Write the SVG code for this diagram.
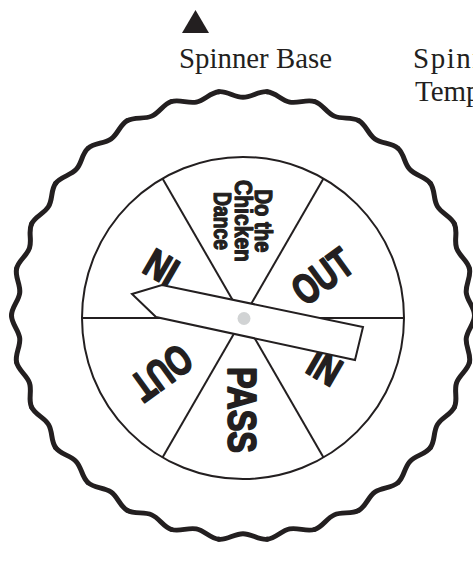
<svg xmlns="http://www.w3.org/2000/svg" width="473" height="561" viewBox="0 0 473 561">
<style>
.ink{fill:none;stroke:#231f20;stroke-width:2}
.solid{fill:#ffffff;stroke:#231f20;stroke-width:2}
.lbl{font-family:"Liberation Sans",Arial,sans-serif;font-weight:bold;fill:#231f20;stroke:#231f20;stroke-width:1.8;stroke-linejoin:round}
.sm{stroke-width:1.2}
.cap{font-family:"Liberation Serif","Times New Roman",serif;font-size:29px;fill:#231f20}
</style>
<defs>
<path id="wave" d="M231.5,0 C231.5,8.67 224.18,14.85 223.27,23.47 C222.36,32.09 228.24,39.65 226.44,48.13" fill="none" stroke="#231f20" stroke-width="5" stroke-linecap="round"/>
</defs>
<rect width="473" height="561" fill="#ffffff"/>

<g id="pointer-marker">
<polygon points="195.5,10 182,33 209,33" fill="#231f20"/>
</g>
<g id="label-base">
<text class="cap" x="179" y="68" textLength="153" lengthAdjust="spacingAndGlyphs">Spinner Base</text>
</g>
<g id="label-template">
<text class="cap" x="413" y="68" letter-spacing="1.5">Spinner</text>
<text class="cap" x="415" y="101">Template</text>
</g>

<g id="base-ring" transform="translate(243,315.5) scale(1,0.972)">
<use href="#wave" transform="rotate(0)"/>
<use href="#wave" transform="rotate(12)"/>
<use href="#wave" transform="rotate(24)"/>
<use href="#wave" transform="rotate(36)"/>
<use href="#wave" transform="rotate(48)"/>
<use href="#wave" transform="rotate(60)"/>
<use href="#wave" transform="rotate(72)"/>
<use href="#wave" transform="rotate(84)"/>
<use href="#wave" transform="rotate(96)"/>
<use href="#wave" transform="rotate(108)"/>
<use href="#wave" transform="rotate(120)"/>
<use href="#wave" transform="rotate(132)"/>
<use href="#wave" transform="rotate(144)"/>
<use href="#wave" transform="rotate(156)"/>
<use href="#wave" transform="rotate(168)"/>
<use href="#wave" transform="rotate(180)"/>
<use href="#wave" transform="rotate(192)"/>
<use href="#wave" transform="rotate(204)"/>
<use href="#wave" transform="rotate(216)"/>
<use href="#wave" transform="rotate(228)"/>
<use href="#wave" transform="rotate(240)"/>
<use href="#wave" transform="rotate(252)"/>
<use href="#wave" transform="rotate(264)"/>
<use href="#wave" transform="rotate(276)"/>
<use href="#wave" transform="rotate(288)"/>
<use href="#wave" transform="rotate(300)"/>
<use href="#wave" transform="rotate(312)"/>
<use href="#wave" transform="rotate(324)"/>
<use href="#wave" transform="rotate(336)"/>
<use href="#wave" transform="rotate(348)"/>
</g>

<g id="wheel">
<circle class="solid" cx="243" cy="318" r="161"/>
<line class="ink" x1="82" y1="318" x2="404" y2="318"/>
<line class="ink" x1="243" y1="318" x2="323.5" y2="178.6"/>
<line class="ink" x1="243" y1="318" x2="162.5" y2="178.6"/>
<line class="ink" x1="243" y1="318" x2="162.5" y2="457.4"/>
<line class="ink" x1="243" y1="318" x2="323.5" y2="457.4"/>
</g>

<g id="sector-chicken">
<text class="lbl sm" font-size="23" transform="translate(255,221) rotate(90)" x="-31.5" y="0" textLength="63" lengthAdjust="spacingAndGlyphs">Do the</text>
<text class="lbl sm" font-size="23" transform="translate(235,221) rotate(90)" x="-41" y="0" textLength="82" lengthAdjust="spacingAndGlyphs">Chicken</text>
<text class="lbl sm" font-size="23" transform="translate(214,221) rotate(90)" x="-29" y="0" textLength="58" lengthAdjust="spacingAndGlyphs">Dance</text>
</g>
<g id="sector-out-1">
<text class="lbl" font-size="42" transform="translate(322,276) rotate(-36)" x="-32" y="15" textLength="64" lengthAdjust="spacingAndGlyphs">OUT</text>
</g>
<g id="sector-in-1">
<text class="lbl" font-size="40" transform="translate(325,367) rotate(30)" x="-16" y="14.5" textLength="32" lengthAdjust="spacingAndGlyphs">IN</text>
</g>
<g id="sector-pass">
<text class="lbl" font-size="40" transform="translate(228,410) rotate(90)" x="-43" y="0" textLength="86" lengthAdjust="spacingAndGlyphs">PASS</text>
</g>
<g id="sector-out-2">
<text class="lbl" font-size="42" transform="translate(162,373) rotate(144)" x="-32" y="15" textLength="64" lengthAdjust="spacingAndGlyphs">OUT</text>
</g>
<g id="sector-in-2">
<text class="lbl" font-size="40" transform="translate(161,268) rotate(-150)" x="-16" y="14.5" textLength="32" lengthAdjust="spacingAndGlyphs">IN</text>
</g>

<g id="pointer">
<polygon class="solid" points="132,294 162,285 363,327 355,360 156,317" stroke-linejoin="miter"/>
<circle cx="244" cy="318.5" r="6.5" fill="#d1d3d4"/>
</g>
</svg>
